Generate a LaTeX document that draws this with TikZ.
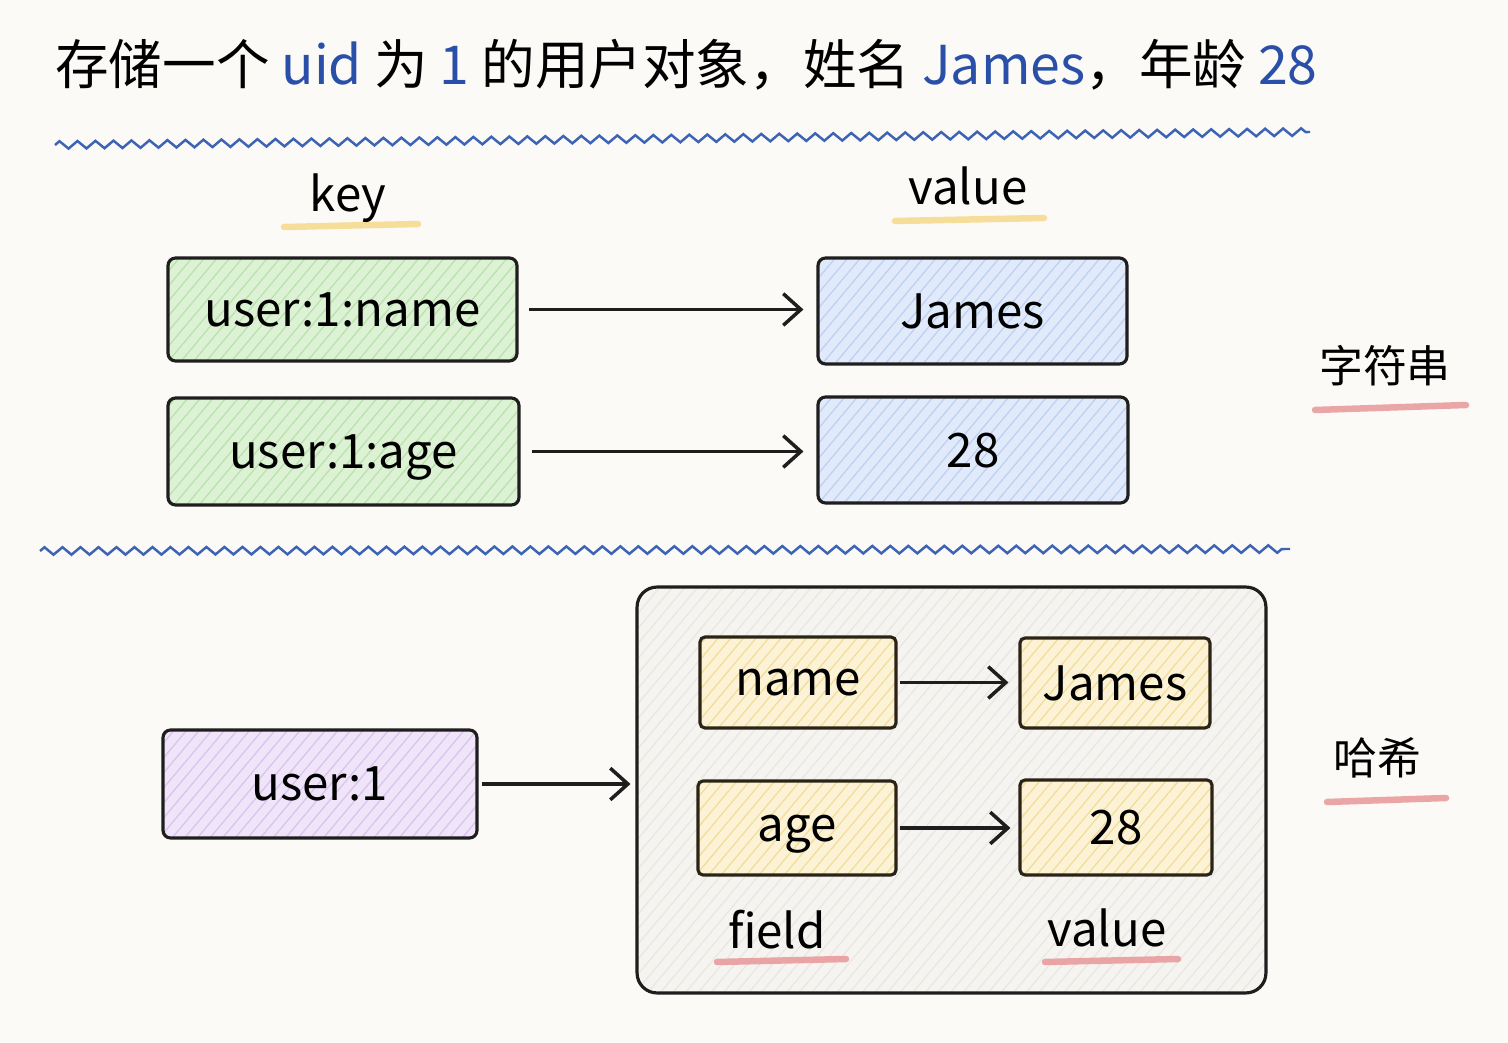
\documentclass[tikz,border=0pt]{standalone}
\usepackage{fontspec}
\setmainfont{Noto Sans CJK SC}
\usetikzlibrary{arrows.meta,patterns.meta,decorations.pathmorphing}
\definecolor{bg}{HTML}{FBFAF7}
\definecolor{ink}{HTML}{1E1E1E}
\definecolor{inkbrown}{HTML}{2B2416}
\definecolor{titleblue}{HTML}{2A4FA8}
\definecolor{wave}{HTML}{3D63B5}
\definecolor{gfill}{HTML}{DDF2D4}
\definecolor{ghatch}{HTML}{B8E2AB}
\definecolor{bfill}{HTML}{E0EAFB}
\definecolor{bhatch}{HTML}{BDD0F2}
\definecolor{pfill}{HTML}{EFE4F8}
\definecolor{phatch}{HTML}{D8C2EF}
\definecolor{yfill}{HTML}{FCF3D6}
\definecolor{yhatch}{HTML}{F3DC98}
\definecolor{gyfill}{HTML}{F5F4F0}
\definecolor{gyhatch}{HTML}{E9E7E1}
\definecolor{ulyellow}{HTML}{F6D98A}
\definecolor{ulpink}{HTML}{E8979A}
\begin{document}
\begin{tikzpicture}[x=0.02cm,y=-0.02cm,
  box/.style={draw=ink, line width=1.8pt, rounded corners=0.15cm, inner sep=0pt,
    font=\fontsize{27}{32}\selectfont, text depth=0pt},
  hatch/.style 2 args={preaction={fill=#1}, pattern={Lines[angle=50,distance=5.5pt,line width=0.7pt]}, pattern color=#2},
  greenbox/.style={box, hatch={gfill}{ghatch}},
  bluebox/.style={box, hatch={bfill}{bhatch}},
  purplebox/.style={box, hatch={pfill}{phatch}},
  yellowbox/.style={box, draw=inkbrown, rounded corners=0.1cm, hatch={yfill}{yhatch}},
  greybox/.style={draw=ink, line width=1.8pt, rounded corners=0.4cm, inner sep=0pt, hatch={gyfill}{gyhatch}},
  conn/.style={draw=ink, line width=2pt, -{Straight Barb[length=10pt,width=18pt,line width=2pt]}},
  wavy/.style={draw=wave, line width=1.4pt, decorate, decoration={zigzag, segment length=0.36cm, amplitude=0.075cm}},
  uline/.style={line width=0.13cm, line cap=round, opacity=0.85},
  lbl/.style={inner sep=0pt, font=\fontsize{27}{32}\selectfont},
  cjklbl/.style={inner sep=0pt, font=\fontsize{25}{30}\selectfont}
]
\fill[bg] (0,0) rectangle (1508,1043);
\useasboundingbox (0,0) rectangle (1508,1043);

% title
\node[anchor=west, inner sep=0pt, font=\fontsize{30.5}{36}\selectfont] (title) at (55,65)
  {存储一个 \textcolor{titleblue}{uid} 为 \textcolor{titleblue}{1} 的用户对象，姓名 \textcolor{titleblue}{James}，年龄 \textcolor{titleblue}{28}};

% separators
\draw[wavy] (55,145) -- (1310,132);
\draw[wavy] (40,551) -- (1290,549);

% column labels
\draw[uline, ulyellow] (284,227) -- (418,224);
\node[lbl, anchor=base] (keylbl) at (348,212) {key};
\draw[uline, ulyellow] (895,221) -- (1044,218);
\node[lbl, anchor=base] (vallbl) at (968,205) {value};

% string section
\node[greenbox, minimum width=6.98cm, minimum height=2.06cm] (k1) at (342.5,309.5) {user:1:name};
\node[greenbox, minimum width=7.02cm, minimum height=2.14cm] (k2) at (343.5,451.5) {user:1:age};
\node[bluebox, minimum width=6.18cm, minimum height=2.12cm] (v1) at (972.5,311) {James};
\node[bluebox, minimum width=6.2cm, minimum height=2.12cm] (v2) at (973,450) {28};
\draw[conn, shorten <=0.22cm, shorten >=0.26cm] (k1.east) -- (k1.east -| v1.west);
\draw[conn, shorten <=0.22cm, shorten >=0.26cm] (k2.east) -- (k2.east -| v2.west);

\draw[uline, ulpink] (1315,410) -- (1466,405);
\node[cjklbl] (strlbl) at (1385,366) {字符串};

% hash section
\node[purplebox, minimum width=6.28cm, minimum height=2.16cm] (u1) at (320,784) {user:1};
\node[greybox, minimum width=12.58cm, minimum height=8.12cm] (hash) at (951.5,790) {};
\draw[conn, shorten <=0.06cm, shorten >=0.1cm] (u1.east) -- (u1.east -| hash.west);

\node[yellowbox, minimum width=3.92cm, minimum height=1.82cm] (f1) at (798,682.5) {name};
\node[yellowbox, minimum width=3.8cm, minimum height=1.8cm] (h1) at (1115,683) {James};
\node[yellowbox, minimum width=3.96cm, minimum height=1.88cm] (f2) at (797,828) {age};
\node[yellowbox, minimum width=3.84cm, minimum height=1.9cm] (h2) at (1116,827.5) {28};
\draw[conn, shorten <=0.04cm, shorten >=0.2cm] (f1.east) -- (f1.east -| h1.west);
\draw[conn, shorten <=0.04cm, shorten >=0.16cm] (f2.east) -- (f2.east -| h2.west);

\draw[uline, ulpink] (717,962) -- (846,959);
\node[lbl, anchor=base] (fieldlbl) at (777,948) {field};
\draw[uline, ulpink] (1045,962) -- (1178,959);
\node[lbl, anchor=base] (hvallbl) at (1107,946) {value};

\draw[uline, ulpink] (1327,802) -- (1446,798);
\node[cjklbl] (hashlbl) at (1377,758) {哈希};
\end{tikzpicture}
\end{document}
